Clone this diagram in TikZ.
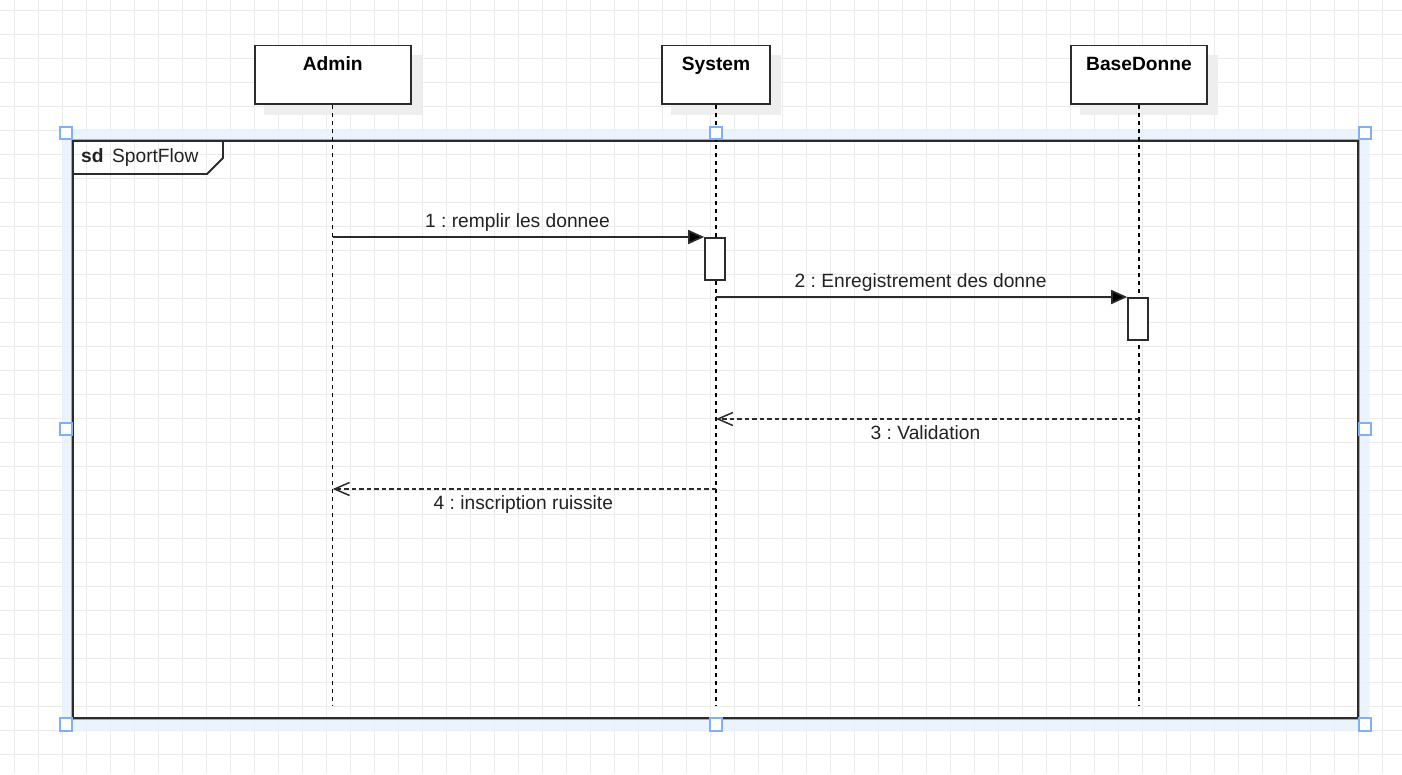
\documentclass[tikz,border=0pt]{standalone}
\usepackage{fontspec}
\setmainfont{Liberation Sans}
\usetikzlibrary{arrows.meta,backgrounds}
\frenchspacing
\definecolor{gridc}{HTML}{EBEBEB}
\definecolor{selband}{HTML}{E8F1FD}
\definecolor{selblue}{HTML}{7DB0F5}
\definecolor{ink}{HTML}{2B2B2B}
\definecolor{txt}{HTML}{222222}
\definecolor{shadowc}{HTML}{EEEEEE}
\tikzset{
  lbl/.style={font=\fontsize{19.2}{23}\selectfont, text=txt, inner sep=0pt},
  head/.style={draw=ink, line width=1.6pt, fill=white, minimum height=58.6pt,
    text height=18pt, text depth=26pt, inner ysep=7.3pt, inner xsep=0pt,
    font=\fontsize{19.2}{23}\selectfont\bfseries, text=black, anchor=north},
  lifeline/.style={draw=black, line width=1.4pt, dash pattern=on 4.5pt off 3.5pt},
  act/.style={draw=ink, line width=1.6pt, fill=white, minimum width=20pt, minimum height=42pt, inner sep=0pt, anchor=north},
  sync/.style={draw=ink, line width=1.7pt, -{Triangle[length=16pt,width=14pt,fill=black]}},
  reply/.style={draw=ink, line width=1.6pt, dash pattern=on 4.5pt off 3pt, -{Straight Barb[length=15pt,width=13pt,line width=1.5pt]}},
  framebox/.style={draw=ink, line width=1.9pt},
  handle/.style={draw=selblue, line width=2pt, fill=white, minimum size=12.5pt, inner sep=0pt},
  shadowbox/.style={fill=shadowc}
}
\begin{document}
\begin{tikzpicture}[x=1pt, y=-1pt]
\useasboundingbox (0,0) rectangle (1402,774);
% grid background
\begin{scope}[on background layer]
  \fill[white] (0,0) rectangle (1402,774);
  \foreach \i in {0,...,58} { \draw[gridc, line width=1pt] ({14.5+24*\i},0) -- ({14.5+24*\i},774); }
  \foreach \j in {0,...,32} { \draw[gridc, line width=1pt] (0,{10+24*\j}) -- (1402,{10+24*\j}); }
  % selection band
  \fill[selband, opacity=0.85, even odd rule] (62,129) rectangle (1369.5,731) (73,141) rectangle (1358,718);
  \draw[selblue, line width=1pt] (71.8,139.8) rectangle (1359.6,719.4);
\end{scope}

% frame and its name tag
\draw[framebox] (73,141) rectangle (1358,718);
\draw[framebox] (73,174) -- (207,174) -- (223,158) -- (223,141);
\node[lbl, anchor=base west] (sdtag) at (81,162.7) {\textbf{sd}\hspace{8.5pt}SportFlow};

% lifeline heads
\node[head, minimum width=156pt] (admin) at (332.7,44.7) {Admin};
\node[head, minimum width=108pt] (system) at (716,44.7) {System};
\node[head, minimum width=136.3pt] (base) at (1139,44.7) {BaseDonne};

% shadows
\begin{scope}[on background layer]
  \foreach \n in {admin,system,base} {
    \fill[shadowc] ([shift={(10,10)}]\n.north west) rectangle ([shift={(10,10)}]\n.south east);
  }
\end{scope}

% lifeline ends
\coordinate (adminEnd) at (332.7,705);
\coordinate (systemEnd) at (716,705);
\coordinate (baseEnd) at (1139,705);
\draw[lifeline] (admin.south) -- (adminEnd);
\draw[lifeline] (system.south) -- (systemEnd);
\draw[lifeline] (base.south) -- (baseEnd);

% activations
\node[act] (act1) at (715,237) {};
\node[act] (act2) at (1138,297) {};

% messages
\draw[sync] (admin |- act1.north west) -- (act1.north west)
  node[lbl, midway, anchor=base, yshift=10pt, xshift=-1pt] (m1) {1 : remplir les donnee};
\draw[sync] (system |- act2.north west) -- (act2.north west)
  node[lbl, midway, anchor=base, yshift=10pt, xshift=-1pt] (m2) {2 : Enregistrement des donne};
\coordinate (r3) at (1139,419);
\draw[reply] (r3) -- (system |- r3)
  node[lbl, midway, anchor=base, yshift=-20.3pt, xshift=-2pt] (m3) {3 : Validation};
\coordinate (r4) at (716,489);
\draw[reply] (r4) -- (admin |- r4)
  node[lbl, midway, anchor=base, yshift=-20.3pt, xshift=-1pt] (m4) {4 : inscription ruissite};

% selection handles
\node[handle] (h1) at (66,133) {};
\node[handle] (h2) at (716,133) {};
\node[handle] (h3) at (1365,133) {};
\node[handle] (h4) at (66,429) {};
\node[handle] (h5) at (1365,429) {};
\node[handle] (h6) at (66,724.5) {};
\node[handle] (h7) at (716,724.5) {};
\node[handle] (h8) at (1365,724.5) {};
\end{tikzpicture}
\end{document}
